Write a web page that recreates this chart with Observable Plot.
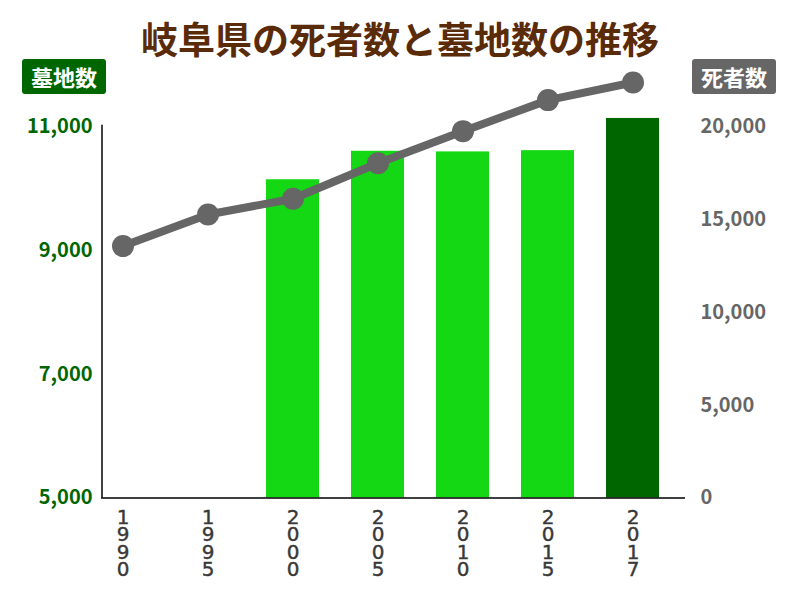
<!DOCTYPE html>
<html><head><meta charset="utf-8">
<script src="https://cdn.jsdelivr.net/npm/d3@7"></script>
<script src="https://cdn.jsdelivr.net/npm/@observablehq/plot@0.6"></script>
<style>
body{margin:0;background:#fff;font-family:"Noto Sans CJK JP",sans-serif}
#wrap{position:relative;width:800px;height:600px}
#title{position:absolute;left:0;top:15px;width:800px;text-align:center;font-size:37px;font-weight:700;color:#5a2b08;line-height:47px;z-index:2;white-space:nowrap}
.lab{position:absolute;top:59px;height:35px;width:84px;border-radius:3px;color:#fff;font-size:22px;font-weight:700;text-align:center;line-height:35px;z-index:2}
#chart{position:absolute;left:0;top:0}
</style></head><body>
<div id="wrap">
<div id="chart"></div>
<div id="title">岐阜県の死者数と墓地数の推移</div>
<div class="lab" style="left:22px;background:#006600">墓地数</div>
<div class="lab" style="left:692px;background:#666666">死者数</div>
</div>
<script>
const years = ["1990","1995","2000","2005","2010","2015","2017"];
const graves = [null,null,10140,10600,10590,10610,11130];
const deaths = [13560,15260,16110,18020,19750,21420,22370];
const leftTicks = [5000,7000,9000,11000];
const rightTicks = [0,5000,10000,15000,20000];

const toLeft = d => 5000 + d * 6000 / 20000;
const data = years.map((y, i) => ({year: y, graves: graves[i], deaths: deaths[i]}));
const barData = data.filter(d => d.graves != null);
const fmt = d3.format(",");
const font = "Noto Sans CJK JP";

const chart = Plot.plot({
  width: 800,
  height: 600,
  marginTop: 126,
  marginBottom: 102.5,
  marginLeft: 101,
  marginRight: 115,
  style: {fontFamily: font, background: "transparent", overflow: "visible"},
  x: {type: "band", domain: years, range: [78, 677], paddingInner: 0.38, paddingOuter: 0.19, axis: null},
  y: {domain: [5000, 11000], axis: null},
  marks: [
    Plot.barY(barData.filter(d => d.year !== "2017"), {x: "year", y1: 5000, y2: "graves", fill: "#14d814"}),
    Plot.barY(barData.filter(d => d.year === "2017"), {x: "year", y1: 5000, y2: "graves", fill: "#006600"}),
    Plot.ruleY([5000], {stroke: "#000", strokeWidth: 1.5}),
    Plot.ruleX([years[0]], {y1: 5000, y2: 11020, stroke: "#000", strokeWidth: 1.5, dx: -21}),
    Plot.line(data, {x: "year", y: d => toLeft(d.deaths), stroke: "#666666", strokeWidth: 8}),
    Plot.dot(data, {x: "year", y: d => toLeft(d.deaths), r: 11, fill: "#666666"}),
    Plot.text(leftTicks, {y: d => d, text: d => fmt(d), frameAnchor: "left", dx: -9, textAnchor: "end", fill: "#006600", fontSize: 20, fontWeight: "bold"}),
    Plot.text(rightTicks, {y: d => toLeft(d), text: d => fmt(d), frameAnchor: "right", dx: 15, textAnchor: "start", fill: "#666666", fontSize: 20, fontWeight: "bold"}),
    Plot.text(years, {x: d => d, frameAnchor: "bottom", lineAnchor: "top", dy: 14, text: d => d.split("").join("\n"), lineHeight: 0.86, fontSize: 20, fontFamily: "DejaVu Sans", fill: "#383838", stroke: "#383838", strokeWidth: 0.4})
  ]
});
document.getElementById("chart").appendChild(chart);
</script>
</body></html>
